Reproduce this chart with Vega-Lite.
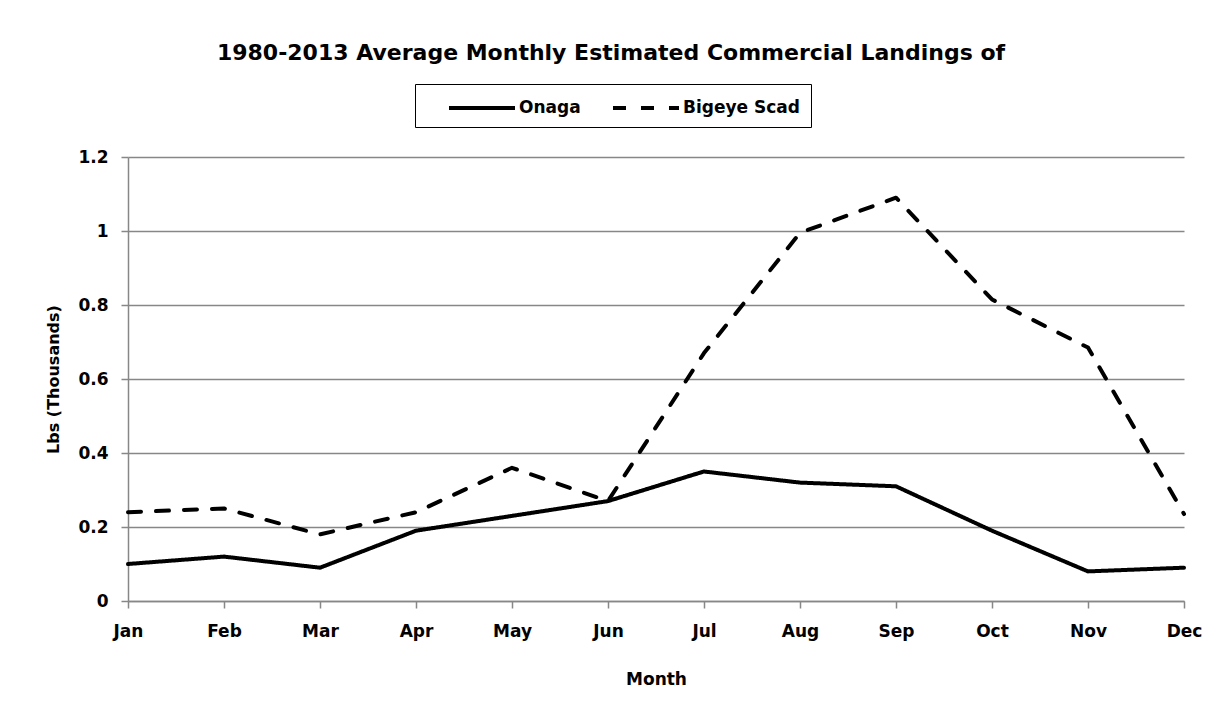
{
  "$schema": "https://vega.github.io/schema/vega-lite/v6.json",
  "width": 1056,
  "height": 444,
  "autosize": {"type": "none"},
  "padding": {"left": 128, "top": 157, "right": 38, "bottom": 110},
  "background": "white",
  "title": {
    "text": "1980-2013 Average Monthly Estimated Commercial Landings of",
    "font": "DejaVu Sans",
    "fontSize": 22,
    "fontWeight": "bold",
    "color": "black",
    "anchor": "middle",
    "frame": "group",
    "dx": -45,
    "offset": 19
  },
  "data": {
    "values": [
      {"month": "Jan", "series": "Onaga", "value": 0.10},
      {"month": "Feb", "series": "Onaga", "value": 0.12},
      {"month": "Mar", "series": "Onaga", "value": 0.09},
      {"month": "Apr", "series": "Onaga", "value": 0.19},
      {"month": "May", "series": "Onaga", "value": 0.23},
      {"month": "Jun", "series": "Onaga", "value": 0.27},
      {"month": "Jul", "series": "Onaga", "value": 0.35},
      {"month": "Aug", "series": "Onaga", "value": 0.32},
      {"month": "Sep", "series": "Onaga", "value": 0.31},
      {"month": "Oct", "series": "Onaga", "value": 0.19},
      {"month": "Nov", "series": "Onaga", "value": 0.08},
      {"month": "Dec", "series": "Onaga", "value": 0.09},
      {"month": "Jan", "series": "Bigeye Scad", "value": 0.24},
      {"month": "Feb", "series": "Bigeye Scad", "value": 0.25},
      {"month": "Mar", "series": "Bigeye Scad", "value": 0.18},
      {"month": "Apr", "series": "Bigeye Scad", "value": 0.24},
      {"month": "May", "series": "Bigeye Scad", "value": 0.36},
      {"month": "Jun", "series": "Bigeye Scad", "value": 0.27},
      {"month": "Jul", "series": "Bigeye Scad", "value": 0.67},
      {"month": "Aug", "series": "Bigeye Scad", "value": 0.995},
      {"month": "Sep", "series": "Bigeye Scad", "value": 1.09},
      {"month": "Oct", "series": "Bigeye Scad", "value": 0.815},
      {"month": "Nov", "series": "Bigeye Scad", "value": 0.685},
      {"month": "Dec", "series": "Bigeye Scad", "value": 0.235}
    ]
  },
  "mark": {"type": "line", "strokeWidth": 4, "strokeJoin": "round", "strokeCap": "round"},
  "encoding": {
    "x": {
      "field": "month",
      "type": "ordinal",
      "sort": ["Jan","Feb","Mar","Apr","May","Jun","Jul","Aug","Sep","Oct","Nov","Dec"],
      "scale": {"type": "point", "padding": 0},
      "title": "Month",
      "axis": {
        "labelAngle": 0,
        "labelFont": "DejaVu Sans",
        "labelFontSize": 17,
        "labelFontWeight": "bold",
        "labelColor": "black",
        "labelPadding": 15,
        "titleFont": "DejaVu Sans",
        "titleFontSize": 17,
        "titleFontWeight": "bold",
        "titleColor": "black",
        "titlePadding": 32,
        "domainColor": "#878787",
        "domainWidth": 1.5,
        "tickColor": "#878787",
        "tickWidth": 1.5,
        "tickSize": 7,
        "grid": false
      }
    },
    "y": {
      "field": "value",
      "type": "quantitative",
      "scale": {"domain": [0, 1.2], "nice": false},
      "title": "Lbs (Thousands)",
      "axis": {
        "values": [0, 0.2, 0.4, 0.6, 0.8, 1, 1.2],
        "format": "~g",
        "labelFont": "DejaVu Sans",
        "labelFontSize": 17,
        "labelFontWeight": "bold",
        "labelColor": "black",
        "labelPadding": 13,
        "titleFont": "DejaVu Sans",
        "titleFontSize": 16,
        "titleFontWeight": "bold",
        "titleColor": "black",
        "titlePadding": 16,
        "domainColor": "#878787",
        "domainWidth": 1.5,
        "tickColor": "#878787",
        "tickWidth": 1.5,
        "tickSize": 7,
        "grid": true,
        "gridColor": "#878787",
        "gridWidth": 1.5
      }
    },
    "color": {
      "field": "series",
      "type": "nominal",
      "scale": {"domain": ["Onaga", "Bigeye Scad"], "range": ["black", "black"]},
      "legend": {
        "orient": "none",
        "legendX": 287,
        "legendY": -73,
        "direction": "horizontal",
        "title": null,
        "strokeColor": "black",
        "fillColor": "white",
        "padding": 11,
        "symbolType": "M0.909,0H6.909",
        "symbolSize": 484,
        "symbolStrokeWidth": 4,
        "labelFont": "DejaVu Sans",
        "labelFontSize": 17,
        "labelFontWeight": "bold",
        "labelColor": "black",
        "labelOffset": 67,
        "columnPadding": 9
      }
    },
    "strokeDash": {
      "field": "series",
      "type": "nominal",
      "scale": {"domain": ["Onaga", "Bigeye Scad"], "range": [[1, 0], [13, 15]]},
      "legend": {
        "orient": "none",
        "legendX": 287,
        "legendY": -73,
        "direction": "horizontal",
        "title": null,
        "strokeColor": "black",
        "fillColor": "white",
        "padding": 11,
        "symbolType": "M0.909,0H6.909",
        "symbolSize": 484,
        "symbolStrokeWidth": 4,
        "labelFont": "DejaVu Sans",
        "labelFontSize": 17,
        "labelFontWeight": "bold",
        "labelColor": "black",
        "labelOffset": 67,
        "columnPadding": 9
      }
    }
  },
  "config": {
    "view": {"stroke": null}
  }
}
